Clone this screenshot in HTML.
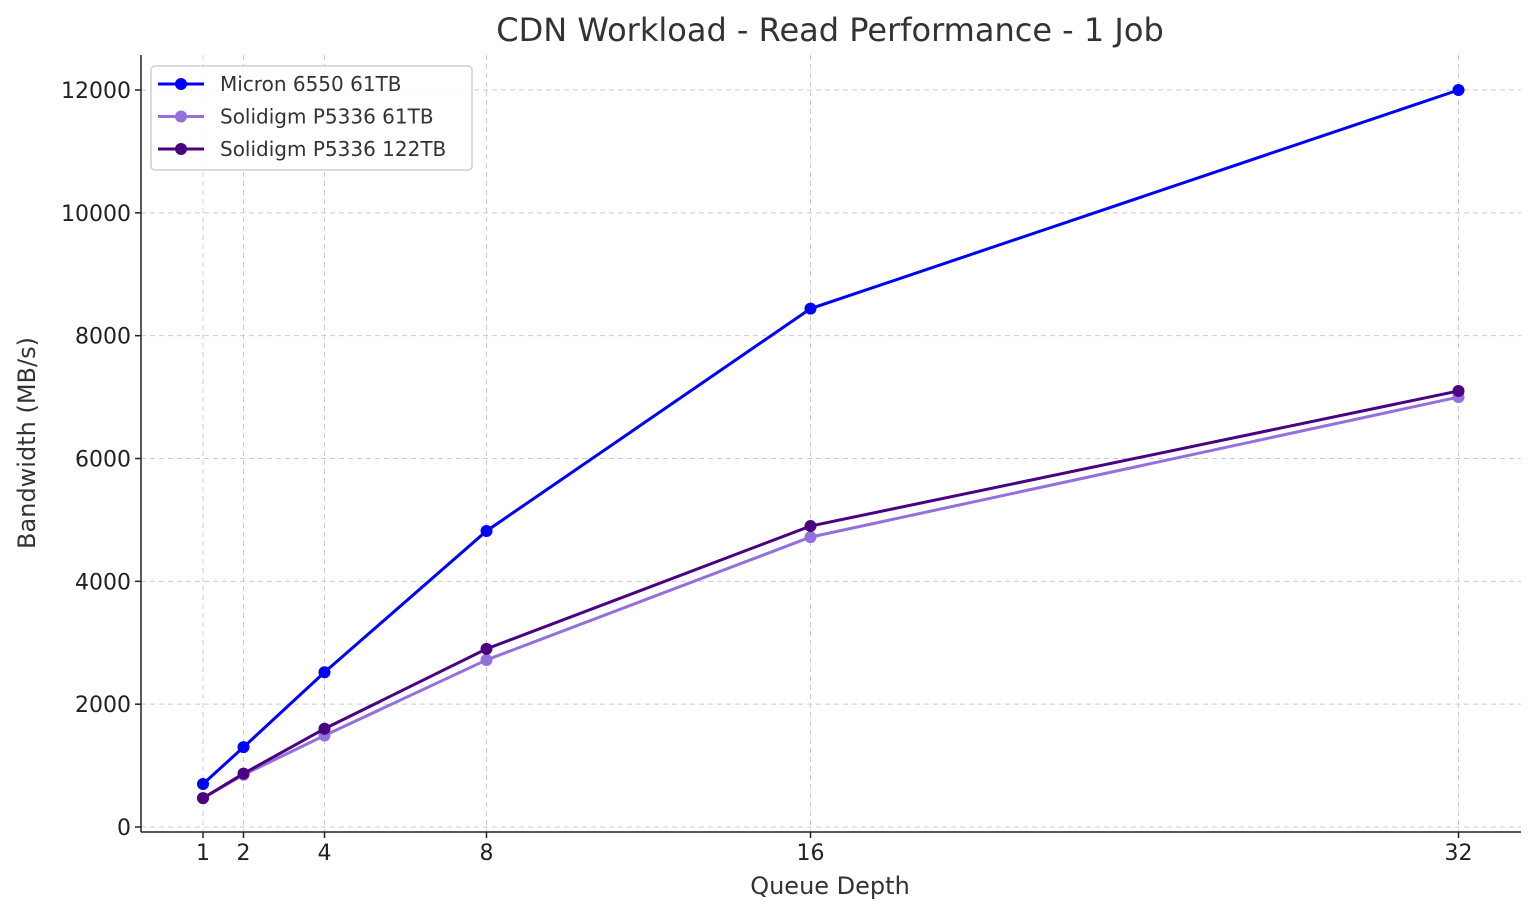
<!DOCTYPE html>
<html><head><meta charset="utf-8"><style>
body{margin:0;background:#fff;}
svg{display:block;font-family:"DejaVu Sans","Liberation Sans",sans-serif;}
</style></head><body>
<svg id="chart" width="1536" height="916" viewBox="0 0 1536 916" xmlns="http://www.w3.org/2000/svg">
<rect width="1536" height="916" fill="#fff"/>
<text x="830" y="41" text-anchor="middle" font-size="32" fill="#333">CDN Workload - Read Performance - 1 Job</text>
<g id="grid"></g>
<g id="axes"></g>
<g id="series"></g>
<text x="830" y="894" text-anchor="middle" font-size="24" fill="#333">Queue Depth</text>
<text transform="translate(35,443) rotate(-90)" text-anchor="middle" font-size="24" fill="#333">Bandwidth (MB/s)</text>
<g id="legend"></g>
</svg>
<script>
const queueDepths = [1, 2, 4, 8, 16, 32];
const micron61 = [700, 1300, 2520, 4820, 8440, 12000];
const solidigm61 = [470, 850, 1490, 2720, 4720, 7000];
const solidigm122 = [470, 870, 1600, 2900, 4900, 7100];
const yTicks = [0, 2000, 4000, 6000, 8000, 10000, 12000];
const seriesNames = ["Micron 6550 61TB", "Solidigm P5336 61TB", "Solidigm P5336 122TB"];

const NS = "http://www.w3.org/2000/svg";
const xs = q => 162.5 + 40.5 * q;
const ys = v => 827 - v * (737 / 12000);
function mk(tag, attrs, parent) {
  const e = document.createElementNS(NS, tag);
  for (const k in attrs) e.setAttribute(k, attrs[k]);
  parent.appendChild(e);
  return e;
}
const grid = document.getElementById("grid");
const axes = document.getElementById("axes");
const series = document.getElementById("series");
const legend = document.getElementById("legend");

queueDepths.forEach(q => {
  const l = mk("line", {x1: xs(q), x2: xs(q), y1: 55, y2: 832, stroke: "#ccc", "stroke-dasharray": "5,4", "stroke-width": 1}, grid);
  
  
  const t = mk("text", {x: xs(q), y: 860, "text-anchor": "middle", "font-size": 22, fill: "#222"}, axes);
  
  
  t.textContent = q;
  mk("line", {x1: xs(q), x2: xs(q), y1: 832, y2: 838, stroke: "#222", "stroke-width": 1.5}, axes);
});
yTicks.forEach(v => {
  const l = mk("line", {x1: 141, x2: 1521, y1: ys(v), y2: ys(v), stroke: "#ccc", "stroke-dasharray": "5,4", "stroke-width": 1}, grid);
  
  
  const t = mk("text", {x: 131, y: ys(v) + 8, "text-anchor": "end", "font-size": 22, fill: "#222"}, axes);
  
  
  t.textContent = v;
  mk("line", {x1: 135, x2: 141, y1: ys(v), y2: ys(v), stroke: "#222", "stroke-width": 1.5}, axes);
});
const sp1 = mk("line", {x1: 141, x2: 141, y1: 55, y2: 832, stroke: "#222", "stroke-width": 1.5}, axes);


const sp2 = mk("line", {x1: 141, x2: 1521, y1: 832, y2: 832, stroke: "#222", "stroke-width": 1.5}, axes);



const allData = [micron61, solidigm61, solidigm122];
const colors = ["#0000ff", "#9370db", "#4b0082"];
const slugs = ["micron-6550-61tb", "solidigm-p5336-61tb", "solidigm-p5336-122tb"];
allData.forEach((d, i) => {
  const g = mk("g", {}, series);
  
  
  const pts = d.map((v, j) => xs(queueDepths[j]) + "," + ys(v)).join(" ");
  const pl = mk("polyline", {points: pts, fill: "none", stroke: colors[i], "stroke-width": 3}, g);
  
  
  d.forEach((v, j) => {
    const c = mk("circle", {cx: xs(queueDepths[j]), cy: ys(v), r: 6, fill: colors[i]}, g);
    
    
  });
});

mk("rect", {x: 151, y: 66, width: 321, height: 104, rx: 4, fill: "#fff", "fill-opacity": 0.9, stroke: "#d0d0d0", "stroke-width": 1.5}, legend);
seriesNames.forEach((n, i) => {
  const y = 84 + i * 32.5;
  const e = mk("g", {}, legend);
  
  
  mk("line", {x1: 158, x2: 204, y1: y, y2: y, stroke: colors[i], "stroke-width": 3}, e);
  mk("circle", {cx: 181, cy: y, r: 6, fill: colors[i]}, e);
  const t = mk("text", {x: 220, y: y + 7, "font-size": 20, fill: "#333"}, e);
  t.textContent = n;
});
</script>
</body></html>
